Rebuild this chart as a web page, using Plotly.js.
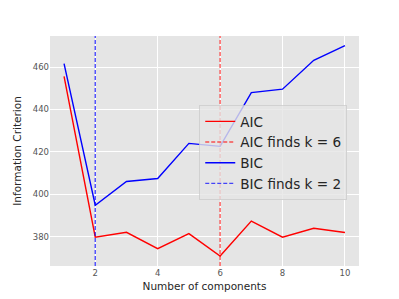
<!DOCTYPE html>
<html><head><meta charset="utf-8">
<script src="https://cdn.plot.ly/plotly-3.0.1.min.js"></script>
<style>body{margin:0;padding:0;background:#fff}#chart{width:399px;height:299px}</style>
</head><body><div id="chart"></div>
<script>
const components = [1,2,3,4,5,6,7,8,9,10];
const aicValues = [455.6, 379.7, 382.0, 374.3, 381.4, 370.8, 387.3, 379.7, 383.9, 381.9];
const bicValues = [461.7, 394.8, 406.0, 407.4, 424.0, 422.6, 448.0, 449.6, 463.2, 470.2];
const xTicks = [2,4,6,8,10];
const yTicks = [380,400,420,440,460];

function argminK(vals){ let i=0; vals.forEach((v,j)=>{ if(v<vals[i]) i=j; }); return components[i]; }
const kAIC = argminK(aicValues);
const kBIC = argminK(bicValues);

const redDash = {color:'rgba(255,0,0,0.65)', width:1.4, dash:'4px,2px'};
const blueDash = {color:'rgba(0,0,255,0.7)', width:1.4, dash:'4px,2px'};

const traces = [
  {x: components, y: aicValues, mode:'lines', name:'AIC', line:{color:'red', width:1.4}},
  {x: [kAIC], y: [null], mode:'lines', name:'AIC finds k = ' + kAIC, line:redDash},
  {x: components, y: bicValues, mode:'lines', name:'BIC', line:{color:'blue', width:1.4}},
  {x: [kBIC], y: [null], mode:'lines', name:'BIC finds k = ' + kBIC, line:blueDash}
];

const layout = {
  width: 399, height: 299,
  margin: {l:50, r:40, t:36, b:33},
  paper_bgcolor: '#ffffff',
  plot_bgcolor: '#e5e5e5',
  font: {family: 'DejaVu Sans', color: '#262626'},
  showlegend: true,
  xaxis: {
    range: [0.55, 10.45], tickvals: xTicks, ticktext: xTicks.map(String),
    showgrid: true, gridcolor: '#ffffff', gridwidth: 1, zeroline: false,
    tickfont: {size: 8.5, color: '#555555'}, ticks: '', ticklen: 0,
    title: {text: 'Number of components', font: {size: 10.5, color: '#262626'}, standoff: 6}
  },
  yaxis: {
    range: [366.1, 474.7], tickvals: yTicks, ticktext: yTicks.map(String),
    showgrid: true, gridcolor: '#ffffff', gridwidth: 1, zeroline: false,
    tickfont: {size: 8.5, color: '#555555'}, ticks: '', ticklen: 0,
    title: {text: 'Information Criterion', font: {size: 10.5, color: '#262626'}, standoff: 9}
  },
  shapes: [
    {type:'line', xref:'x', yref:'paper', x0:kAIC, x1:kAIC, y0:0, y1:1, line:redDash},
    {type:'line', xref:'x', yref:'paper', x0:kBIC, x1:kBIC, y0:0, y1:1, line:blueDash}
  ],
  legend: {
    x: 0.483, y: 0.70, xanchor: 'left', yanchor: 'top',
    bgcolor: 'rgba(229,229,229,0.8)', bordercolor: 'rgba(204,204,204,0.8)', borderwidth: 1,
    font: {size: 13.6, color: '#262626'}, tracegroupgap: 0
  }
};
Plotly.newPlot('chart', traces, layout, {displayModeBar: false, staticPlot: true});
</script></body></html>
